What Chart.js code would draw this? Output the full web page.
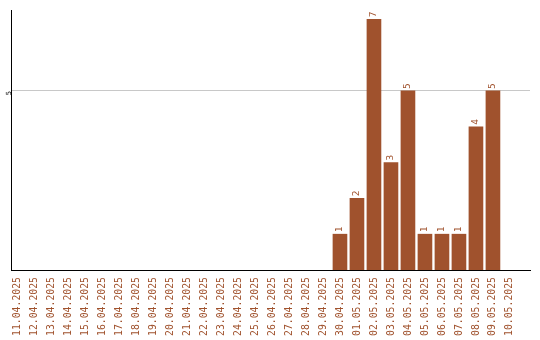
<!DOCTYPE html>
<html>
<head>
<meta charset="utf-8">
<script src="https://cdn.jsdelivr.net/npm/chart.js@4"></script>
<style>html,body{margin:0;padding:0;background:#fff;}canvas{display:block;}</style>
</head>
<body>
<canvas id="c" width="540" height="340"></canvas>
<script>
const categories = ["11.04.2025","12.04.2025","13.04.2025","14.04.2025","15.04.2025","16.04.2025","17.04.2025","18.04.2025","19.04.2025","20.04.2025","21.04.2025","22.04.2025","23.04.2025","24.04.2025","25.04.2025","26.04.2025","27.04.2025","28.04.2025","29.04.2025","30.04.2025","01.05.2025","02.05.2025","03.05.2025","04.05.2025","05.05.2025","06.05.2025","07.05.2025","08.05.2025","09.05.2025","10.05.2025"];
const values = [0,0,0,0,0,0,0,0,0,0,0,0,0,0,0,0,0,0,0,1,2,7,3,5,1,1,1,4,5,0];
const yTicks = [5];

const BROWN = '#A0522D';
const FONT = '"DejaVu Sans Mono", monospace';

const valueLabels = {
  id: 'valueLabels',
  afterDatasetsDraw(chart) {
    const ctx = chart.ctx;
    const meta = chart.getDatasetMeta(0);
    ctx.save();
    ctx.fillStyle = BROWN;
    ctx.font = '9.5px ' + FONT;
    meta.data.forEach((el, i) => {
      const v = values[i];
      if (!v) return;
      ctx.save();
      ctx.translate(el.x, el.y - 2);
      ctx.rotate(-Math.PI / 2);
      ctx.textAlign = 'left';
      ctx.textBaseline = 'middle';
      ctx.fillText(String(v), 0, 0);
      ctx.restore();
    });
    ctx.restore();
  }
};

new Chart(document.getElementById('c'), {
  type: 'bar',
  data: {
    datasets: [{
      data: values.map((v, i) => ({x: i, y: v ? v : null})),
      backgroundColor: BROWN,
      borderWidth: 0,
      barThickness: 14
    }]
  },
  options: {
    responsive: false,
    animation: false,
    layout: {padding: {left: 0, right: 10, top: 10, bottom: 0}},
    plugins: {legend: {display: false}, tooltip: {enabled: false}},
    scales: {
      x: {
        type: 'linear',
        offset: false,
        min: -0.353,
        max: 30.18,
        grid: {display: false, drawTicks: false, offset: false},
        border: {display: true, color: '#000', width: 1},
        afterBuildTicks: s => { s.ticks = categories.map((_, i) => ({value: i})); },
        afterFit: s => { s.height = 70; },
        ticks: {
          autoSkip: false,
          minRotation: 90,
          maxRotation: 90,
          color: BROWN,
          padding: 7,
          font: {family: FONT, size: 9.8},
          callback: v => categories[v]
        }
      },
      y: {
        min: 0,
        max: 7.26,
        afterBuildTicks: s => { s.ticks = yTicks.map(v => ({value: v})); },
        afterFit: s => { s.width = 11; },
        grid: {color: '#c8c8c8', lineWidth: 1, drawTicks: false},
        border: {display: true, color: '#000', width: 1},
        ticks: {
          color: '#000',
          padding: 2,
          minRotation: 90,
          maxRotation: 90,
          font: {family: FONT, size: 7}
        }
      }
    }
  },
  plugins: [valueLabels]
});
</script>
</body>
</html>
